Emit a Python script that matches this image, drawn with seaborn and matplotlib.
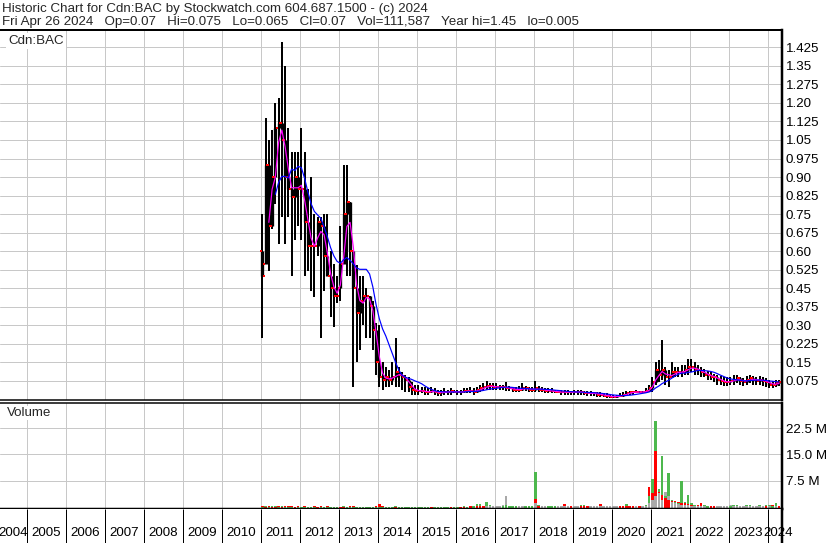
import numpy as np
import pandas as pd
import matplotlib
matplotlib.use("Agg")
import matplotlib.pyplot as plt
import seaborn as sns

# ---------------- data (monthly, Jan 2011 .. Apr 2024) ----------------
start_month = "2011-01-01"

open_ = [
    # 2011
    0.60, 0.55, 0.95, 0.70, 0.90, 1.10, 1.12, 1.05, 0.90, 0.85, 0.82, 0.90,
    # 2012
    0.85, 0.85, 0.72, 0.62, 0.62, 0.62, 0.72, 0.70, 0.58, 0.50, 0.45, 0.42,
    # 2013
    0.45, 0.55, 0.75, 0.80, 0.60, 0.45, 0.35, 0.40, 0.42, 0.42, 0.38, 0.28,
    # 2014
    0.15, 0.09, 0.08, 0.09, 0.08, 0.09, 0.11, 0.10, 0.09, 0.08, 0.05, 0.04,
    # 2015
    0.035, 0.035, 0.035, 0.03, 0.03, 0.035, 0.03, 0.025, 0.03, 0.03, 0.03, 0.035,
    # 2016
    0.03, 0.03, 0.03, 0.035, 0.035, 0.035, 0.03, 0.04, 0.045, 0.05, 0.055, 0.055,
    # 2017
    0.05, 0.05, 0.05, 0.05, 0.045, 0.045, 0.04, 0.04, 0.04, 0.045, 0.045, 0.04,
    # 2018
    0.04, 0.045, 0.04, 0.04, 0.035, 0.035, 0.035, 0.03, 0.03, 0.03, 0.03, 0.03,
    # 2019
    0.03, 0.03, 0.03, 0.03, 0.025, 0.025, 0.025, 0.025, 0.02, 0.02, 0.015, 0.015,
    # 2020
    0.01, 0.01, 0.015, 0.015, 0.02, 0.025, 0.03, 0.03, 0.03, 0.03, 0.03, 0.035,
    # 2021
    0.045, 0.07, 0.12, 0.10, 0.12, 0.09, 0.09, 0.11, 0.11, 0.11, 0.11, 0.12,
    # 2022
    0.13, 0.13, 0.12, 0.12, 0.11, 0.10, 0.10, 0.09, 0.09, 0.08, 0.075, 0.07,
    # 2023
    0.07, 0.075, 0.08, 0.085, 0.075, 0.07, 0.08, 0.085, 0.08, 0.075, 0.08, 0.075,
    # 2024
    0.07, 0.06, 0.06, 0.065,
]

high = [
    0.75, 1.14, 1.05, 1.09, 1.20, 1.22, 1.445, 1.35, 1.10, 1.00, 1.00, 1.00,
    1.10, 1.00, 0.85, 0.90, 0.75, 0.74, 0.74, 0.75, 0.75, 0.60, 0.55, 0.50,
    0.70, 0.95, 0.95, 0.80, 0.60, 0.545, 0.50, 0.50, 0.45, 0.42, 0.40, 0.31,
    0.30, 0.15, 0.13, 0.12, 0.15, 0.25, 0.13, 0.11, 0.10, 0.09, 0.07, 0.06,
    0.06, 0.05, 0.05, 0.045, 0.05, 0.045, 0.04, 0.04, 0.045, 0.04, 0.045, 0.04,
    0.04, 0.04, 0.045, 0.045, 0.05, 0.045, 0.05, 0.06, 0.065, 0.075, 0.065, 0.065,
    0.065, 0.06, 0.06, 0.07, 0.055, 0.05, 0.05, 0.055, 0.065, 0.055, 0.05, 0.05,
    0.075, 0.055, 0.05, 0.045, 0.045, 0.045, 0.04, 0.04, 0.04, 0.04, 0.04, 0.035,
    0.04, 0.04, 0.04, 0.035, 0.035, 0.035, 0.03, 0.03, 0.03, 0.025, 0.025, 0.02,
    0.02, 0.02, 0.025, 0.03, 0.035, 0.035, 0.035, 0.04, 0.035, 0.035, 0.045, 0.06,
    0.09, 0.15, 0.16, 0.24, 0.13, 0.12, 0.15, 0.13, 0.13, 0.14, 0.14, 0.165,
    0.165, 0.15, 0.14, 0.13, 0.125, 0.115, 0.11, 0.105, 0.10, 0.095, 0.09, 0.09,
    0.09, 0.10, 0.10, 0.09, 0.085, 0.095, 0.10, 0.095, 0.09, 0.095, 0.09, 0.085,
    0.08, 0.075, 0.08, 0.08,
]

low = [
    0.25, 0.60, 0.52, 0.69, 0.79, 0.63, 0.74, 0.63, 0.74, 0.50, 0.645, 0.70,
    0.645, 0.50, 0.52, 0.44, 0.415, 0.58, 0.25, 0.44, 0.50, 0.335, 0.295, 0.39,
    0.40, 0.59, 0.50, 0.50, 0.05, 0.15, 0.20, 0.30, 0.25, 0.25, 0.20, 0.10,
    0.05, 0.04, 0.05, 0.05, 0.06, 0.05, 0.05, 0.04, 0.03, 0.03, 0.02, 0.02,
    0.02, 0.025, 0.02, 0.02, 0.025, 0.02, 0.015, 0.015, 0.02, 0.02, 0.02, 0.025,
    0.02, 0.02, 0.025, 0.025, 0.025, 0.02, 0.025, 0.03, 0.035, 0.04, 0.04, 0.04,
    0.04, 0.04, 0.04, 0.035, 0.035, 0.03, 0.03, 0.03, 0.035, 0.035, 0.03, 0.03,
    0.03, 0.03, 0.03, 0.025, 0.025, 0.025, 0.025, 0.025, 0.02, 0.02, 0.02, 0.02,
    0.02, 0.02, 0.02, 0.02, 0.015, 0.015, 0.015, 0.01, 0.01, 0.01, 0.005, 0.005,
    0.005, 0.005, 0.01, 0.01, 0.015, 0.02, 0.02, 0.025, 0.025, 0.025, 0.025, 0.03,
    0.03, 0.06, 0.07, 0.08, 0.06, 0.05, 0.09, 0.09, 0.09, 0.09, 0.10, 0.10,
    0.11, 0.10, 0.10, 0.09, 0.09, 0.08, 0.08, 0.07, 0.06, 0.06, 0.055, 0.055,
    0.06, 0.06, 0.065, 0.06, 0.055, 0.06, 0.065, 0.06, 0.06, 0.06, 0.055, 0.05,
    0.045, 0.045, 0.05, 0.055,
]

close = [
    0.50, 0.95, 0.70, 0.90, 1.10, 1.12, 1.05, 0.90, 0.85, 0.82, 0.90, 0.85,
    0.85, 0.72, 0.62, 0.62, 0.62, 0.72, 0.70, 0.58, 0.50, 0.45, 0.42, 0.42,
    0.55, 0.75, 0.80, 0.60, 0.45, 0.35, 0.40, 0.42, 0.42, 0.38, 0.28, 0.15,
    0.09, 0.08, 0.09, 0.08, 0.09, 0.11, 0.10, 0.09, 0.08, 0.05, 0.04, 0.035,
    0.035, 0.035, 0.03, 0.03, 0.035, 0.03, 0.025, 0.03, 0.03, 0.03, 0.035, 0.03,
    0.03, 0.03, 0.035, 0.035, 0.035, 0.03, 0.04, 0.045, 0.05, 0.055, 0.055, 0.05,
    0.05, 0.05, 0.05, 0.045, 0.045, 0.04, 0.04, 0.04, 0.045, 0.045, 0.04, 0.04,
    0.045, 0.04, 0.04, 0.035, 0.035, 0.035, 0.03, 0.03, 0.03, 0.03, 0.03, 0.03,
    0.03, 0.03, 0.03, 0.025, 0.025, 0.025, 0.025, 0.02, 0.02, 0.015, 0.015, 0.01,
    0.01, 0.015, 0.015, 0.02, 0.025, 0.03, 0.03, 0.03, 0.03, 0.03, 0.035, 0.045,
    0.07, 0.12, 0.10, 0.12, 0.09, 0.09, 0.11, 0.11, 0.11, 0.11, 0.12, 0.13,
    0.13, 0.12, 0.12, 0.11, 0.10, 0.10, 0.09, 0.09, 0.08, 0.075, 0.07, 0.07,
    0.075, 0.08, 0.085, 0.075, 0.07, 0.08, 0.085, 0.08, 0.075, 0.08, 0.075, 0.07,
    0.06, 0.06, 0.065, 0.07,
]

# volume in millions: up weeks (green), down weeks (red), unchanged (grey)
vol_up = [
    0.10, 0.15, 0.10, 0.15, 0.15, 0.10, 0.15, 0.10, 0.05, 0.05, 0.10, 0.05,
    0.05, 0.05, 0.05, 0.05, 0.05, 0.10, 0.05, 0.05, 0.05, 0.05, 0.05, 0.05,
    0.10, 0.15, 0.10, 0.05, 0.05, 0.05, 0.10, 0.05, 0.05, 0.05, 0.05, 0.05,
    0.10, 0.05, 0.10, 0.05, 0.10, 0.15, 0.05, 0.05, 0.05, 0.05, 0.05, 0.05,
    0.05, 0.05, 0.05, 0.05, 0.10, 0.05, 0.05, 0.05, 0.05, 0.05, 0.10, 0.05,
    0.05, 0.10, 0.15, 0.10, 0.40, 0.20, 0.70, 0.80, 0.30, 1.30, 0.50, 0.30,
    0.30, 0.40, 0.30, 0.50, 0.20, 0.20, 0.20, 0.30, 0.40, 0.20, 0.20, 0.20,
    10.1, 0.50, 0.30, 0.30, 0.20, 0.20, 0.20, 0.30, 0.20, 0.20, 0.20, 0.20,
    0.20, 0.30, 0.50, 0.60, 0.40, 0.20, 0.20, 0.20, 0.20, 0.30, 0.20, 0.20,
    0.20, 0.20, 0.20, 0.30, 0.90, 0.20, 0.20, 0.20, 0.20, 0.40, 0.50, 3.00,
    8.00, 24.6, 5.00, 14.5, 3.00, 9.60, 2.00, 1.50, 1.20, 7.50, 1.50, 3.40,
    1.00, 0.50, 0.40, 0.40, 0.50, 0.30, 0.30, 0.40, 0.30, 0.30, 0.30, 0.30,
    0.40, 0.60, 0.50, 0.30, 0.40, 0.60, 0.50, 0.40, 0.30, 0.50, 0.40, 0.60,
    0.50, 0.30, 1.00, 0.40,
]
vol_down = [
    0.15, 0.10, 0.15, 0.10, 0.10, 0.15, 0.10, 0.15, 0.15, 0.15, 0.10, 0.15,
    0.10, 0.15, 0.10, 0.10, 0.15, 0.10, 0.15, 0.10, 0.15, 0.10, 0.10, 0.10,
    0.05, 0.10, 0.10, 0.15, 0.20, 0.10, 0.10, 0.10, 0.10, 0.10, 0.10, 0.15,
    0.80, 0.15, 0.10, 0.10, 0.10, 0.10, 0.10, 0.10, 0.10, 0.10, 0.10, 0.10,
    0.10, 0.10, 0.10, 0.10, 0.05, 0.10, 0.10, 0.10, 0.10, 0.10, 0.05, 0.10,
    0.10, 0.05, 0.10, 0.10, 0.20, 0.30, 0.20, 0.30, 0.30, 0.40, 0.30, 0.30,
    0.40, 0.30, 0.30, 0.60, 0.30, 0.40, 0.30, 0.30, 0.30, 0.30, 0.30, 0.30,
    2.30, 0.30, 0.30, 0.30, 0.30, 0.30, 0.30, 0.30, 0.30, 0.70, 0.30, 0.20,
    0.30, 0.30, 0.20, 0.20, 0.20, 0.20, 0.30, 0.30, 0.80, 0.30, 0.30, 0.30,
    0.30, 0.30, 0.20, 0.20, 0.20, 0.20, 0.20, 0.30, 0.20, 0.30, 0.50, 5.80,
    4.00, 16.1, 4.40, 3.50, 2.50, 2.00, 1.80, 1.80, 1.50, 1.00, 1.00, 0.80,
    0.50, 0.40, 0.50, 1.00, 0.40, 0.40, 0.30, 0.30, 0.40, 0.30, 0.40, 0.30,
    0.40, 0.30, 0.30, 0.40, 0.30, 0.30, 0.30, 0.40, 0.30, 0.30, 0.40, 0.30,
    0.40, 0.50, 0.40, 0.30,
]
vol_flat = [
    0, 0, 0, 0, 0, 0, 0, 0, 0, 0, 0, 0,
    0, 0, 0, 0, 0, 0, 0, 0, 0, 0, 0, 0,
    0, 0, 0, 0, 0, 0, 0, 0, 0, 0, 0, 0,
    0, 0, 0, 0, 0, 0, 0, 0, 0, 0, 0, 0,
    0, 0, 0, 0, 0, 0, 0, 0, 0, 0, 0, 0,
    0, 0, 0, 0, 0, 0, 0, 0, 0, 0.30, 0.20, 0.20,
    0.20, 0.30, 0.50, 3.10, 0.30, 0.20, 0.20, 0.20, 0.20, 0.20, 0.20, 0.20,
    1.00, 0.60, 0.30, 0.20, 0.20, 0.20, 0.20, 0.20, 0.20, 0.20, 0.20, 0.20,
    0.20, 0.20, 0.20, 0.60, 0.40, 0.20, 0.20, 0.20, 0.20, 0.20, 0.20, 0.20,
    0.20, 0.20, 0.20, 0.20, 0.20, 0.20, 0.20, 0.20, 0.20, 0.20, 0.30, 1.00,
    2.00, 3.00, 4.00, 2.00, 4.40, 3.00, 1.50, 1.00, 0.80, 0.50, 0.50, 0.50,
    0.30, 0.30, 0.30, 0.30, 0.30, 0.30, 0.30, 0.30, 0.30, 0.30, 0.30, 0.30,
    0.50, 0.30, 0.30, 0.30, 0.30, 0.30, 0.30, 0.30, 0.30, 0.30, 0.30, 0.30,
    0.30, 0.30, 0.30, 0.30,
]

price_ticks = [0.075, 0.15, 0.225, 0.30, 0.375, 0.45, 0.525, 0.60, 0.675, 0.75,
               0.825, 0.90, 0.975, 1.05, 1.125, 1.20, 1.275, 1.35, 1.425]
price_labels = ["0.075", "0.15", "0.225", "0.30", "0.375", "0.45", "0.525", "0.60",
                "0.675", "0.75", "0.825", "0.90", "0.975", "1.05", "1.125", "1.20",
                "1.275", "1.35", "1.425"]
vol_ticks = [7.5, 15.0, 22.5]
vol_labels = ["7.5 M", "15.0 M", "22.5 M"]
years = list(range(2004, 2025))

title1 = "Historic Chart for Cdn:BAC by Stockwatch.com 604.687.1500 - (c) 2024"
title2 = ("Fri Apr 26 2024   Op=0.07   Hi=0.075   Lo=0.065   Cl=0.07   "
          "Vol=111,587   Year hi=1.45   lo=0.005")

# ---------------- derived frame ----------------
dates = pd.date_range(start_month, periods=len(close), freq="MS")
df = pd.DataFrame({"open": open_, "high": high, "low": low, "close": close})
df["x"] = dates.year + (dates.month - 0.5) / 12.0
df["ma_fast"] = df["close"].rolling(3, min_periods=3).mean()
df["ma_slow"] = df["close"].rolling(9, min_periods=5).mean()

# ---------------- style / layout ----------------
sns.set_style("white")
plt.rcParams["font.family"] = ["Liberation Sans", "DejaVu Sans"]
FS = 9.6
plt.rcParams["font.size"] = FS

W, H = 830, 543
PX = 0.72  # points per pixel at dpi 100
fig = plt.figure(figsize=(W / 100, H / 100), dpi=100)
fig.patch.set_facecolor("white")


def rect(x0, y0, x1, y1):
    return [x0 / W, 1 - y1 / H, (x1 - x0) / W, (y1 - y0) / H]


RIGHT = 781.5
XMIN = 2004.315
XMAX = XMIN + RIGHT / 39.0
GRID = "#c8c8c8"

ax_p = fig.add_axes(rect(0, 30, RIGHT, 400))
ax_v = fig.add_axes(rect(0, 403, RIGHT, 509))
ax_x = fig.add_axes(rect(0, 509, RIGHT, 543))

for ax in (ax_p, ax_v, ax_x):
    ax.set_xlim(XMIN, XMAX)
    ax.set_facecolor("white")
    ax.spines["left"].set_visible(False)
    for s in ("top", "right", "bottom"):
        ax.spines[s].set_color("black")
    ax.spines["right"].set_linewidth(2.5 * PX)
    ax.set_xticks([])

# ---- price panel ----
ax_p.set_ylim(-0.002, 1.495)
for t in price_ticks:
    ax_p.axhline(t, color=GRID, lw=1 * PX, zorder=0)
for y in years[1:]:
    ax_p.axvline(y, color=GRID, lw=1 * PX, zorder=0)

ax_p.vlines(df["x"], df["low"], df["high"], color="black", lw=2.0 * PX, zorder=2)
ax_p.vlines(df["x"], df[["open", "close"]].min(axis=1), df[["open", "close"]].max(axis=1),
            color="black", lw=3.3 * PX, zorder=2)

ticks = pd.concat([
    pd.DataFrame({"x": df["x"] - 0.03, "v": df["open"]}),
    pd.DataFrame({"x": df["x"] + 0.03, "v": df["close"]}),
])
sns.scatterplot(data=ticks, x="x", y="v", ax=ax_p, color="#ff0000", marker="s",
                s=4, linewidth=0, zorder=3, legend=False)
sns.lineplot(data=df, x="x", y="ma_fast", ax=ax_p, color="#ff00ff", lw=1.2 * PX,
             zorder=4, legend=False)
sns.lineplot(data=df, x="x", y="ma_slow", ax=ax_p, color="#0000ff", lw=1.2 * PX,
             zorder=5, legend=False)

ax_p.set_xlim(XMIN, XMAX)
ax_p.set_ylim(-0.002, 1.495)
ax_p.set_xlabel("")
ax_p.set_ylabel("")
ax_p.set_xticks([])
ax_p.yaxis.tick_right()
ax_p.set_yticks(price_ticks)
ax_p.set_yticklabels(price_labels)
ax_p.tick_params(axis="y", length=0, pad=3, labelsize=FS, labelcolor="black")
ax_p.spines["top"].set_linewidth(2 * PX)
ax_p.spines["bottom"].set_linewidth(1.5 * PX)

# ---- volume panel ----
VOL_FLOOR = -0.6
ax_v.set_ylim(VOL_FLOOR, 29.74)
for t in vol_ticks:
    ax_v.axhline(t, color=GRID, lw=1 * PX, zorder=0)
for y in years[1:]:
    ax_v.axvline(y, color=GRID, lw=1 * PX, zorder=0)

vol_long = pd.concat([
    pd.DataFrame({"x": df["x"], "v": vol_up, "c": "#4db84d"}),
    pd.DataFrame({"x": df["x"], "v": vol_down, "c": "#ff0000"}),
    pd.DataFrame({"x": df["x"], "v": vol_flat, "c": "#a9a9a9"}),
])
vol_long = vol_long[vol_long["v"] > 0].sort_values("v", ascending=False)
ax_v.bar(vol_long["x"], vol_long["v"] - VOL_FLOOR, bottom=VOL_FLOOR, width=0.06,
         color=vol_long["c"], linewidth=0, zorder=2)
ax_v.yaxis.tick_right()
ax_v.set_yticks(vol_ticks)
ax_v.set_yticklabels(vol_labels)
ax_v.tick_params(axis="y", length=0, pad=3, labelsize=FS, labelcolor="black")
ax_v.spines["top"].set_linewidth(1.5 * PX)
ax_v.spines["bottom"].set_linewidth(2.5 * PX)

# ---- year band ----
ax_x.set_ylim(0, 1)
ax_x.set_yticks([])
ax_x.spines["top"].set_visible(False)
ax_x.spines["bottom"].set_visible(False)
ax_x.vlines(years[1:], 0, 1, color="black", lw=1 * PX)

renderer = fig.canvas.get_renderer()
prev_right_px = -1e9
for y in years:
    lo, hi = max(y, XMIN), min(y + 1, XMAX)
    t = ax_x.text((lo + hi) / 2, 0.30, str(y), ha="center", va="center", fontsize=FS,
                  color="black", clip_on=False)
    bb = t.get_window_extent(renderer)
    if bb.x0 < prev_right_px + 0.5:
        # keep the last (partial) year label from running into its neighbour
        shift = prev_right_px + 0.5 - bb.x0
        cx_px = (bb.x0 + bb.x1) / 2 + shift
        t.set_x(ax_x.transData.inverted().transform((cx_px, 0))[0])
        bb = t.get_window_extent(renderer)
    prev_right_px = bb.x1

# ---- texts ----
fig.text(2 / W, 1 - 9 / H, title1, ha="left", va="center", fontsize=FS)
fig.text(2 / W, 1 - 22.5 / H, title2, ha="left", va="center", fontsize=FS)
fig.text(8 / W, 1 - 41 / H, "Cdn:BAC", ha="left", va="center", fontsize=FS,
         bbox=dict(facecolor="white", edgecolor="none", pad=1.5))
fig.text(7 / W, 1 - 413 / H, "Volume", ha="left", va="center", fontsize=FS,
         bbox=dict(facecolor="white", edgecolor="none", pad=1.0))

fig.savefig("out.png", dpi=100, facecolor="white")
